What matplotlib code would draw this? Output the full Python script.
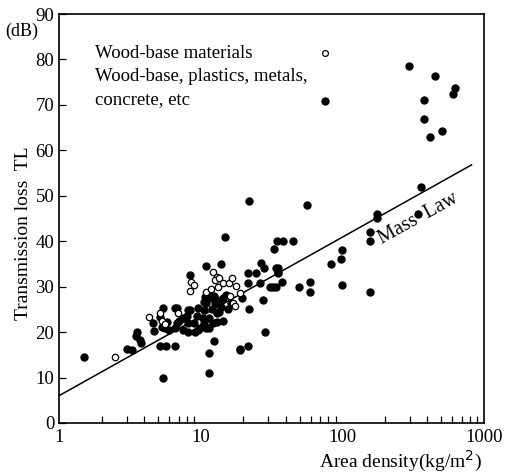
import matplotlib
matplotlib.use("Agg")
import matplotlib.pyplot as plt
from matplotlib.ticker import LogLocator, NullFormatter, FixedLocator

plt.rcParams['font.family'] = ['Liberation Serif', 'DejaVu Serif']

# wood-base materials (open circles)
wood_density = [2.48, 4.34, 5.16, 5.35, 5.6, 6.95, 8.4, 8.6, 9.0, 10.9, 11.8,
                12.3, 13.0, 12.6, 13.5, 13.3, 14.4, 15.9, 16.8, 17.7, 18.9,
                17.0, 17.4, 16.2]
wood_tl = [14.6, 23.4, 24.3, 22.5, 21.8, 24.1, 29.1, 31.1, 30.4, 28.9, 29.5,
           33.3, 32.2, 31.5, 31.8, 30.0, 30.7, 30.9, 31.8, 30.2, 28.7,
           26.3, 25.8, 28.0]

# wood-base, plastics, metals, concrete etc (filled circles)
other_density = [1.51, 3.0, 3.3, 3.57, 3.5, 3.73, 3.79, 4.58, 4.67, 5.2,
                 5.45, 5.3, 5.6, 5.16, 5.7, 5.4, 5.75, 6.58, 6.8, 6.58,
                 6.58, 6.8, 7.54, 8.17, 8.4, 8.17, 8.17, 8.4, 9.1, 9.6,
                 9.9, 9.6, 10.6, 10.4, 11.0, 11.5, 11.5, 11.5, 12.4, 11.0,
                 14.0, 10.7, 10.6, 11.0, 11.3, 15.0, 13.5, 12.6, 13.0, 14.0,
                 13.0, 10.6, 18.9, 21.7, 28.4, 21.9, 19.7, 21.7, 24.8, 26.6,
                 28.0, 26.1, 27.7, 21.7, 32.4, 34.0, 34.3, 35.2, 37.8, 19.1,
                 12.0, 12.5, 13.0, 14.5, 12.0, 13.5, 11.5, 12.2, 14.5, 15.5,
                 16.5, 6.0, 7.0, 7.5, 8.0, 9.0, 9.5, 22.0, 14.9, 34.4,
                 38.0, 44.7, 33.0, 99.0, 98.5, 84.0, 35.0, 35.0, 49.5, 59.0,
                 59.0, 99.0, 30.8, 56.0, 158.0, 158.0, 177.0, 177.0, 156.0, 363.0,
                 342.0, 297.0, 451.0, 624.0, 610.0, 379.0, 379.0, 510.0, 416.0]
other_tl = [14.6, 16.2, 16.1, 20.1, 19.1, 18.3, 17.5, 21.9, 20.2, 23.3,
            25.2, 21.2, 20.8, 16.9, 16.9, 10.0, 22.3, 25.2, 25.2, 20.8,
            16.9, 21.9, 23.0, 24.9, 24.9, 21.9, 20.1, 32.6, 20.1, 20.5,
            20.8, 25.2, 24.9, 23.0, 20.8, 20.8, 15.3, 10.9, 18.0, 34.6,
            35.0, 27.8, 26.7, 26.3, 28.5, 28.2, 26.3, 26.3, 24.1, 25.6,
            22.3, 21.9, 16.2, 16.9, 20.1, 25.0, 27.6, 32.9, 33.1, 35.1,
            34.0, 30.9, 27.1, 30.9, 30.0, 30.0, 34.0, 33.3, 31.1, 16.0,
            27.5, 28.0, 27.0, 27.5, 25.0, 24.5, 23.0, 22.0, 22.5, 25.0,
            26.5, 20.5, 22.5, 20.5, 23.5, 22.0, 23.5, 48.9, 41.0, 40.0,
            40.0, 40.0, 38.3, 38.0, 36.0, 35.0, 34.0, 33.0, 30.0, 31.0,
            28.8, 30.4, 30.0, 48.0, 42.0, 40.0, 46.1, 45.0, 28.9, 51.9,
            46.0, 78.6, 76.4, 73.7, 72.5, 71.1, 66.9, 64.3, 63.0]

# mass law line end points
mass_law_density = [1.0, 820.0]
mass_law_tl = [6.0, 56.8]

fig = plt.figure(figsize=(5.13, 4.75), dpi=100)
ax = fig.add_axes([0.115, 0.1095, 0.828, 0.861])

ax.plot(mass_law_density, mass_law_tl, color='black', lw=1.1)
ax.plot(other_density, other_tl, 'o', color='black', ms=5.0, mec='black')
ax.plot(wood_density, wood_tl, 'o', mfc='white', mec='black', ms=4.6, mew=0.9)

ax.set_xscale('log')
ax.set_xlim(1, 1000)
ax.set_ylim(0, 90)
ax.xaxis.set_major_locator(FixedLocator([1, 10, 100, 1000]))
ax.set_xticklabels(['1', '10', '100', '1000'])
ax.xaxis.set_minor_locator(LogLocator(base=10, subs=range(2, 10)))
ax.xaxis.set_minor_formatter(NullFormatter())
ax.set_yticks(range(0, 91, 10))
ax.tick_params(direction='in', labelsize=13.5, length=5, width=0.9)
ax.tick_params(which='minor', direction='in', length=5, width=0.9)
ax.tick_params(axis='x', which='major', length=0, pad=4)
for s in ax.spines.values():
    s.set_linewidth(1.2)

# legend written as plain text
ax.text(0.085, 0.903, 'Wood-base materials', transform=ax.transAxes,
        fontsize=13.5, va='center')
ax.text(0.085, 0.846, 'Wood-base, plastics, metals,', transform=ax.transAxes,
        fontsize=13.5, va='center')
ax.text(0.085, 0.790, 'concrete, etc', transform=ax.transAxes,
        fontsize=13.5, va='center')
ax.plot([75.5], [81.4], 'o', mfc='white', mec='black', ms=4.2, mew=0.9)
ax.plot([75.5], [70.9], 'o', color='black', ms=5.0)

ax.text(345, 45.0, 'Mass  Law', rotation=29, fontsize=14.5,
        ha='center', va='center')

fig.text(0.043, 0.935, '(dB)', fontsize=13, ha='center', va='center')
fig.text(0.045, 0.51, 'Transmission loss  TL', rotation=90, fontsize=14,
         ha='center', va='center')
fig.text(0.94, 0.028, 'Area density(kg/m$^2$)', fontsize=14,
         ha='right', va='center')

fig.savefig('out.png', dpi=100)
